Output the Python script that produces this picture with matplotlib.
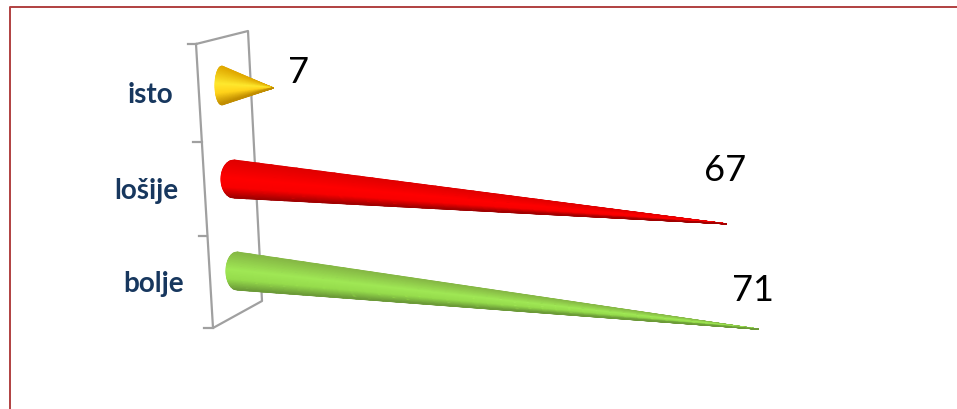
import numpy as np
import matplotlib
matplotlib.use('Agg')
import matplotlib.pyplot as plt
from matplotlib.colors import LinearSegmentedColormap

categories = ['isto', 'lošije', 'bolje']
values = [7, 67, 71]

# fake 3d layout, all in picture pixels
base_x = [222, 234, 237]
base_y = [85.5, 179, 271]
base_a = [7, 13, 11]
base_h = [19.5, 19, 19]
slope = [0.36, 0.67, 0.82]
x_per_value = 7.35
label_pos = [(150, 95), (146, 191), (154, 284)]
value_off = [(25, -16), (-1, -53), (-6, -39)]
shades = [
    ['#e0a800', '#ffe92e', '#ffd21a', '#c08c00'],
    ['#e00000', '#ff0000', '#f80000', '#a00000'],
    ['#86b845', '#a0e855', '#96dc4c', '#6c9a38'],
]

plt.rcParams['font.family'] = ['Lato', 'DejaVu Sans']
fig = plt.figure(figsize=(9.57, 4.09), dpi=100)
ax = fig.add_axes([0, 0, 1, 1])
ax.set_xlim(0, 957)
ax.set_ylim(409, 0)
ax.axis('off')

# slide frame
ax.plot([9.5, 9.5, 957], [409, 6.5, 6.5], color='#b04040', lw=1.4)

# wall of the axis
grey = '#a0a0a0'
ax.plot([196, 248, 262, 213, 196], [44, 31, 301, 328, 44], color=grey, lw=1.6)
for x0, x1, y in [(188, 196, 44), (193, 202, 142), (199, 207, 236), (204, 213, 328)]:
    ax.plot([x0, x1], [y, y], color=grey, lw=1.6)

for i, v in enumerate(values):
    tip_x = base_x[i] + v * x_per_value
    tip_y = base_y[i] + v * slope[i]
    cmap = LinearSegmentedColormap.from_list('c', list(zip([0, 0.45, 0.72, 1], shades[i])))
    # cone as a mesh, across = position round the body, along = base to tip
    across = np.linspace(-1, 1, 60)
    along = np.linspace(0, 1, 40)
    uu, ww = np.meshgrid(along, across)
    back = base_x[i] - base_a[i] * np.sqrt(1 - ww ** 2)
    xx = back + (tip_x - back) * uu
    yy = (base_y[i] + base_h[i] * ww) * (1 - uu) + tip_y * uu
    ax.pcolormesh(xx, yy, (ww + 1) / 2, cmap=cmap, shading='gouraud', zorder=3)

    ax.text(tip_x + value_off[i][0], tip_y + value_off[i][1], str(v), fontsize=26,
            color='black', ha='center', va='center', zorder=4)
    ax.text(label_pos[i][0], label_pos[i][1], categories[i], fontsize=20, fontweight='bold',
            color='#17375e', ha='center', va='center')

fig.savefig('out.png', dpi=100)
